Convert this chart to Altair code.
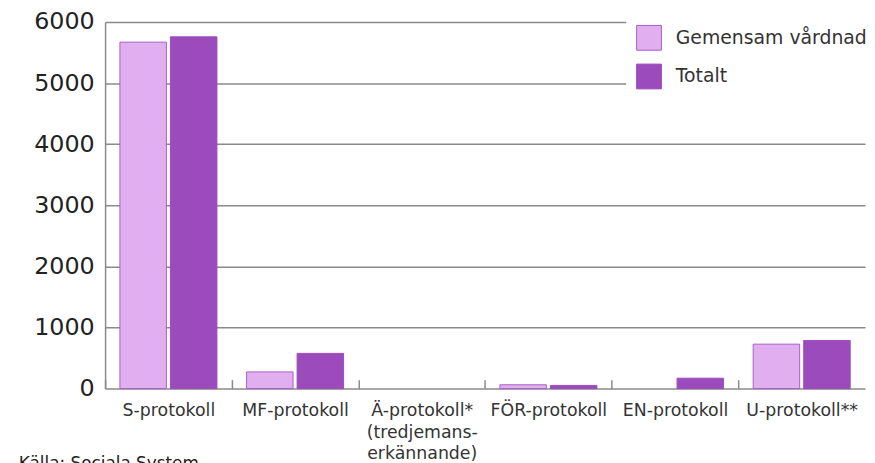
import altair as alt
import pandas as pd

categories = ["S-protokoll", "MF-protokoll", "Ä-protokoll*\n(tredjemans-\nerkännande)",
              "FÖR-protokoll", "EN-protokoll", "U-protokoll**"]
series = ["Gemensam vårdnad", "Totalt"]
gemensam = [5670, 273, 0, 62, 0, 727]
totalt = [5757, 576, 0, 52, 170, 788]

rows = []
for c, g, t in zip(categories, gemensam, totalt):
    rows.append({"kategori": c, "serie": series[0], "antal": g})
    rows.append({"kategori": c, "serie": series[1], "antal": t})
df = pd.DataFrame(rows)

FONT = "DejaVu Sans"

chart = alt.Chart(df).mark_bar(strokeWidth=1).encode(
    x=alt.X("kategori:N", sort=categories, title=None,
            scale=alt.Scale(domain=categories, paddingInner=0.234, paddingOuter=0.117),
            axis=alt.Axis(domain=False, ticks=True, tickSize=9,
                          tickOffset=-64, labelOffset=64,
                          tickColor="#8a8a8a", tickWidth=1.5, offset=-9,
                          labelAngle=0, labelFontSize=17.5, labelColor="#333333",
                          labelFont=FONT, labelPadding=13, labelLimit=300,
                          labelExpr="split(datum.label, '\\n')", labelLineHeight=22)),
    xOffset=alt.XOffset("serie:N", sort=series,
                        scale=alt.Scale(domain=series, paddingInner=0.08, paddingOuter=0)),
    y=alt.Y("antal:Q", title=None,
            scale=alt.Scale(domain=[0, 6000], nice=False),
            axis=alt.Axis(values=[0, 1000, 2000, 3000, 4000, 5000, 6000], ticks=False,
                          format="d",
                          domain=True, domainColor="#8a8a8a", domainWidth=1.5,
                          grid=True, gridColor="#8a8a8a", gridWidth=1.5,
                          labelFontSize=24, labelColor="#222222", labelFont=FONT,
                          labelPadding=11)),
    fill=alt.Fill("serie:N", sort=series,
                  scale=alt.Scale(domain=series, range=["#E1AFEF", "#9C4BBC"]),
                  legend=alt.Legend(title=None, orient="none", legendX=526, legendY=-7,
                                    fillColor="white", padding=10, symbolType="square",
                                    symbolSize=625, symbolStrokeWidth=1, rowPadding=9,
                                    labelFontSize=19, labelFont=FONT, labelColor="#333333",
                                    labelOffset=14, labelLimit=400)),
    stroke=alt.Stroke("serie:N", sort=series,
                      scale=alt.Scale(domain=series, range=["#A95DCB", "#9C4BBC"]),
                      legend=None),
).transform_filter(
    alt.datum.antal > 0
).properties(
    width=767, height=370,
    autosize=alt.AutoSizeParams(type="none"),
    padding={"left": 98, "top": 12, "right": 2, "bottom": 75},
    title=alt.Title("Källa: Sociala System", orient="bottom", anchor="start",
                    dx=-15, offset=-6, fontSize=17, font=FONT, fontWeight="normal",
                    color="#222222"),
).configure_view(stroke=None)

chart.save("out.html", embed_options={"renderer": "svg", "actions": False})
